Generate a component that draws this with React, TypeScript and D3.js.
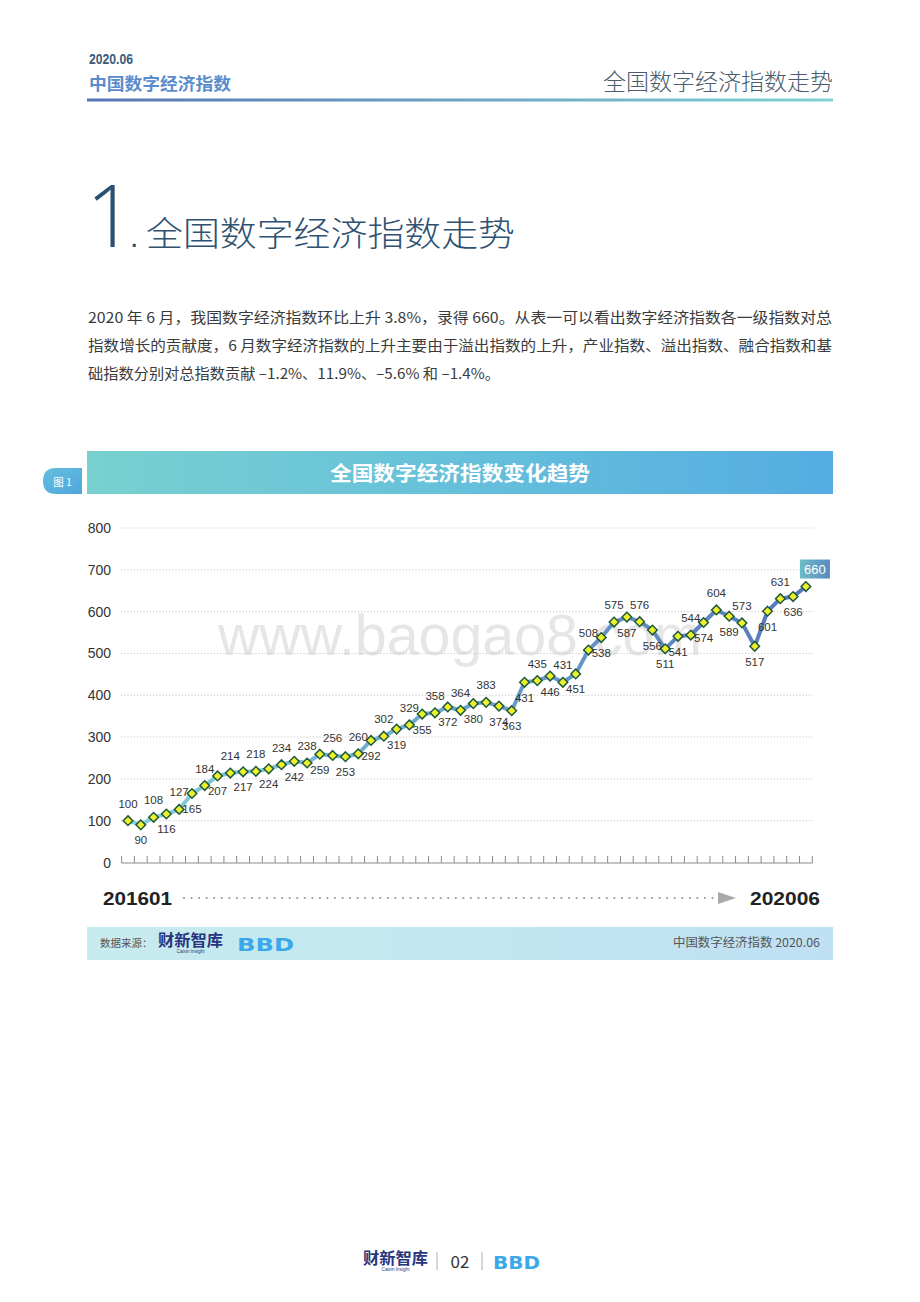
import React from 'react';
import * as d3 from 'd3';

const months = [
  '201601','201602','201603','201604','201605','201606','201607','201608','201609','201610','201611','201612',
  '201701','201702','201703','201704','201705','201706','201707','201708','201709','201710','201711','201712',
  '201801','201802','201803','201804','201805','201806','201807','201808','201809','201810','201811','201812',
  '201901','201902','201903','201904','201905','201906','201907','201908','201909','201910','201911','201912',
  '202001','202002','202003','202004','202005','202006'
];
const values = [
  100, 90, 108, 116, 127, 165, 184, 207, 214, 217, 218, 224,
  234, 242, 238, 259, 256, 253, 260, 292, 302, 319, 329, 355,
  358, 372, 364, 380, 383, 374, 363, 431, 435, 446, 431, 451,
  508, 538, 575, 587, 576, 556, 511, 541, 544, 574, 604, 589,
  573, 517, 601, 631, 636, 660
];
// 'a' = label above point, 'b' = below, 'x' = boxed highlight
const labelSide = [
  'a','b','a','b','a','b','a','b','a','b','a','b',
  'a','b','a','b','a','b','a','b','a','b','a','b',
  'a','b','a','b','a','b','b','b','a','b','a','b',
  'a','b','a','b','a','b','b','b','a','b','a','b',
  'a','b','b','a','b','x'
];
const yTicks = [0, 100, 200, 300, 400, 500, 600, 700, 800];
const startLabel = '201601';
const endLabel = '202006';

const CJK = '"Noto Sans CJK SC", "Noto Sans", sans-serif';
const LAT = '"Liberation Sans", Arial, sans-serif';

function BBD({ x, y, h, w }: { x: number; y: number; h: number; w: number }) {
  return (
    <text x={x} y={y} fontFamily='"DejaVu Sans", sans-serif' fontWeight={900} fontSize={h} fill="#3aa8ea" textLength={w} lengthAdjust="spacingAndGlyphs">BBD</text>
  );
}

function Caixin({ x, y, s }: { x: number; y: number; s: number }) {
  return (
    <g>
      <text x={x} y={y} fontFamily={CJK} fontWeight={700} fontSize={s} fill="#27357e" textLength={s * 4.2} lengthAdjust="spacingAndGlyphs">财新智库</text>
      <text x={x + s * 2.1} y={y + s * 0.45} fontFamily={LAT} fontSize={s * 0.3} fill="#27357e" textAnchor="middle">Caixin Insight</text>
    </g>
  );
}

export default function App() {
  const x = d3.scaleBand<string>().domain(months).range([121.6, 812.3]).paddingInner(0).paddingOuter(0);
  const y = d3.scaleLinear().domain([0, 800]).range([862.5, 528]);
  const cx = (m: string) => (x(m) as number) + x.bandwidth() / 2;
  const line = d3.line<number>().x((_, i) => cx(months[i])).y(d => y(d));
  const axisY = 863;

  const dots: number[] = d3.range(184, 714, 7.55);

  return (
    <svg width={920} height={1302} style={{ position: 'absolute', left: 0, top: 0, background: '#fff' }}>
      <defs>
        <linearGradient id="hdrLine" x1="0" x2="1" y1="0" y2="0">
          <stop offset="0" stopColor="#5674b6" />
          <stop offset="1" stopColor="#80d2d2" />
        </linearGradient>
        <linearGradient id="titleBar" x1="0" x2="1" y1="0" y2="0">
          <stop offset="0" stopColor="#78d0cf" />
          <stop offset="0.5" stopColor="#66c0da" />
          <stop offset="1" stopColor="#55ace2" />
        </linearGradient>
        <linearGradient id="tabGrad" x1="0" x2="1" y1="0" y2="1">
          <stop offset="0" stopColor="#64bfe0" />
          <stop offset="1" stopColor="#4fa6dc" />
        </linearGradient>
        <linearGradient id="srcBar" x1="0" x2="1" y1="0" y2="0">
          <stop offset="0" stopColor="#c7ebee" />
          <stop offset="1" stopColor="#bfe0f3" />
        </linearGradient>
        <linearGradient id="lineGrad" gradientUnits="userSpaceOnUse" x1={cx(months[0])} x2={cx(months[months.length - 1])} y1="0" y2="0">
          <stop offset="0" stopColor="#86d0d8" />
          <stop offset="0.35" stopColor="#74aed2" />
          <stop offset="1" stopColor="#5578ba" />
        </linearGradient>
        <linearGradient id="boxGrad" x1="0" x2="1" y1="0" y2="0">
          <stop offset="0" stopColor="#6cbdc9" />
          <stop offset="1" stopColor="#5a88bf" />
        </linearGradient>
      </defs>

      {/* Header */}
      <text x={89} y={64} fontFamily={LAT} fontWeight={700} fontSize={15.5} fill="#3a5a7c" textLength={44} lengthAdjust="spacingAndGlyphs">2020.06</text>
      <text x={89} y={90} fontFamily={CJK} fontWeight={700} fontSize={16.5} fill="#5a8ccc" textLength={142} lengthAdjust="spacingAndGlyphs">中国数字经济指数</text>
      <text x={833} y={90} textAnchor="end" fontFamily={CJK} fontWeight={300} fontSize={23} fill="#4b5c6c" textLength={230} lengthAdjust="spacingAndGlyphs">全国数字经济指数走势</text>
      <rect x={87} y={98.5} width={746} height={3} fill="url(#hdrLine)" />

      {/* Section title */}
      <text x={86} y={247} fontFamily='"Open Sans", "Noto Sans", sans-serif' fontWeight={300} fontSize={86} fill="#2c5070">1</text>
      <text x={130} y={247} fontFamily={LAT} fontSize={30} fill="#2c5070">.</text>
      <text x={146} y={246} fontFamily={CJK} fontWeight={300} fontSize={34} fill="#2f5272" textLength={369} lengthAdjust="spacingAndGlyphs">全国数字经济指数走势</text>

      {/* Paragraph */}
      <g fontFamily={CJK} fontSize={14.5} fill="#3a3a3a">
        <text x={88} y={323} textLength={744} lengthAdjust="spacingAndGlyphs">2020 年 6 月，我国数字经济指数环比上升 3.8%，录得 660。从表一可以看出数字经济指数各一级指数对总</text>
        <text x={88} y={351} textLength={744} lengthAdjust="spacingAndGlyphs">指数增长的贡献度，6 月数字经济指数的上升主要由于溢出指数的上升，产业指数、溢出指数、融合指数和基</text>
        <text x={88} y={379} textLength={412} lengthAdjust="spacingAndGlyphs">础指数分别对总指数贡献 –1.2%、11.9%、–5.6% 和 –1.4%。</text>
      </g>

      {/* Figure title bar */}
      <path d="M 56 468 L 82 468 L 82 494 L 56 494 Q 43 494 43 481 Q 43 468 56 468 Z" fill="url(#tabGrad)" />
      <text x={62.5} y={485.5} textAnchor="middle" fontFamily={CJK} fontSize={10.5} fill="#fff">图 1</text>
      <rect x={87} y={451} width={746} height={43} fill="url(#titleBar)" />
      <text x={460} y={480.5} textAnchor="middle" fontFamily={CJK} fontWeight={700} fontSize={20.5} fill="#fff" textLength={260} lengthAdjust="spacingAndGlyphs">全国数字经济指数变化趋势</text>

      {/* Watermark */}
      <text x={218} y={655} fontFamily={LAT} fontSize={57} fill="#e6e6e6" textLength={484} lengthAdjust="spacingAndGlyphs">www.baogao8.com</text>

      {/* Gridlines and y labels */}
      {yTicks.map(t => (
        <g key={t}>
          {t > 0 && (
            <line x1={121} x2={813} y1={y(t)} y2={y(t)} stroke="#b9b9b9" strokeWidth={0.8} strokeDasharray="1.2 2" />
          )}
          <text x={111} y={y(t) + 5} textAnchor="end" fontFamily={LAT} fontSize={14} fill="#333">{t}</text>
        </g>
      ))}

      {/* X axis baseline and ticks */}
      <line x1={121.6} x2={812.3} y1={axisY} y2={axisY} stroke="#8a8a8a" strokeWidth={1} />
      {months.map(m => (
        <line key={m} x1={x(m) as number} x2={x(m) as number} y1={axisY - 7} y2={axisY} stroke="#8a8a8a" strokeWidth={1} />
      ))}
      <line x1={812.3} x2={812.3} y1={axisY - 7} y2={axisY} stroke="#8a8a8a" strokeWidth={1} />

      {/* Line */}
      <path d={line(values) as string} fill="none" stroke="url(#lineGrad)" strokeWidth={4} strokeLinejoin="round" />

      {/* Markers */}
      {values.map((v, i) => {
        const px = cx(months[i]);
        const py = y(v);
        const r = 4.8;
        return (
          <path key={i} d={`M ${px} ${py - r} L ${px + r} ${py} L ${px} ${py + r} L ${px - r} ${py} Z`} fill="#eef02c" stroke="#1d5a3d" strokeWidth={1.5} />
        );
      })}

      {/* Data labels */}
      {values.map((v, i) => {
        const px = cx(months[i]);
        const py = y(v);
        const side = labelSide[i];
        if (side === 'x') {
          return (
            <g key={i}>
              <rect x={px - 6} y={py - 27} width={30} height={19} fill="url(#boxGrad)" />
              <text x={px + 9} y={py - 12.5} textAnchor="middle" fontFamily={LAT} fontSize={13} fill="#fff">{v}</text>
            </g>
          );
        }
        return (
          <text key={i} x={px} y={side === 'a' ? py - 13 : py + 19.5} textAnchor="middle" fontFamily={LAT} fontSize={11.5} fill="#333">{v}</text>
        );
      })}

      {/* Bottom time axis */}
      <text x={103} y={905} fontFamily={LAT} fontWeight={700} fontSize={19} fill="#222" textLength={69} lengthAdjust="spacingAndGlyphs">{startLabel}</text>
      {dots.map((d, i) => (
        <circle key={i} cx={d} cy={898} r={1.1} fill="#9a9a9a" />
      ))}
      <path d="M 718 892 L 736 898 L 718 904 Z" fill="#a9a9a9" />
      <text x={820} y={905} textAnchor="end" fontFamily={LAT} fontWeight={700} fontSize={19} fill="#222" textLength={70} lengthAdjust="spacingAndGlyphs">{endLabel}</text>

      {/* Source bar */}
      <rect x={87} y={927} width={746} height={33} fill="url(#srcBar)" />
      <text x={100} y={947} fontFamily={CJK} fontSize={10.5} fill="#555">数据来源：</text>
      <Caixin x={158} y={946} s={15.5} />
      <BBD x={237} y={951} h={17} w={57} />
      <text x={820} y={947} textAnchor="end" fontFamily={CJK} fontSize={12} fill="#555" textLength={147} lengthAdjust="spacingAndGlyphs">中国数字经济指数 2020.06</text>

      {/* Footer */}
      <Caixin x={363} y={1264} s={15.5} />
      <line x1={437} x2={437} y1={1252} y2={1270} stroke="#999" strokeWidth={0.8} />
      <text x={460} y={1268} textAnchor="middle" fontFamily={CJK} fontSize={17} fill="#333">02</text>
      <line x1={482} x2={482} y1={1252} y2={1270} stroke="#999" strokeWidth={0.8} />
      <BBD x={493} y={1269} h={17} w={47} />
    </svg>
  );
}
